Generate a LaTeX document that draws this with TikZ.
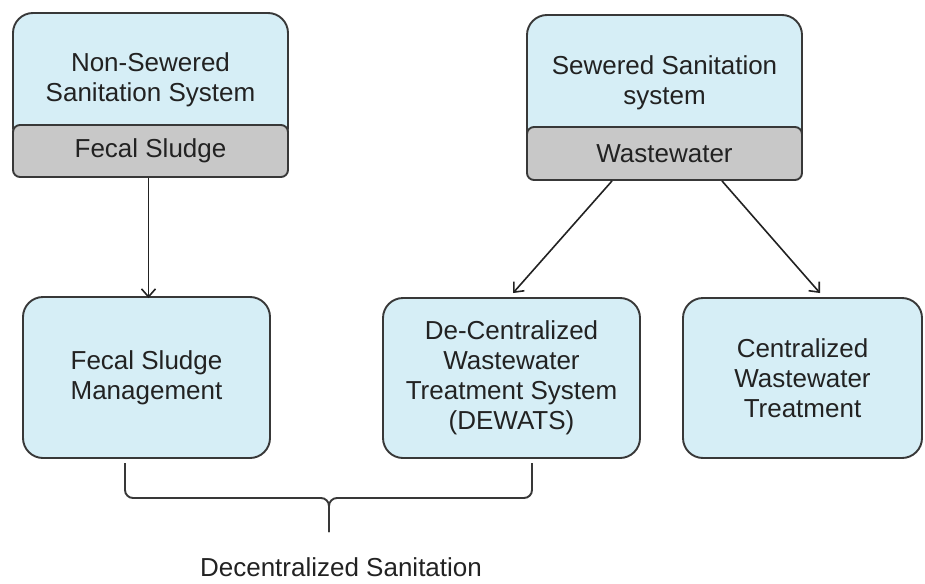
\documentclass[tikz,border=0pt]{standalone}
\usepackage{fontspec}
\setmainfont{Liberation Sans}
\usetikzlibrary{arrows.meta}
\definecolor{boxblue}{HTML}{D6EEF6}
\definecolor{tabgray}{HTML}{C8C8C8}
\definecolor{edge}{HTML}{383838}
\definecolor{ink}{HTML}{222222}
\tikzset{
  box/.style={draw=edge, line width=1.9pt, fill=boxblue, rounded corners=20pt, inner sep=0pt, align=center, text=ink},
  tab/.style={draw=edge, line width=1.9pt, fill=tabgray, rounded corners=7pt, inner sep=0pt, text=ink},
  link/.style={draw=ink, line width=1.6pt, -{Straight Barb[length=8pt,width=14pt]}},
  brace/.style={draw=edge, line width=1.9pt, rounded corners=8pt},
}

\begin{document}
\begin{tikzpicture}[x=1pt, y=-1pt, font=\fontsize{26}{30}\selectfont]
\useasboundingbox (0,0) rectangle (925,583);
% top row
\node[box, minimum width=275pt, minimum height=134pt] (nss) at (150.5,80) {Non-Sewered\\Sanitation System};
\node[tab, minimum width=275pt, minimum height=52pt] (fs) at (150.5,151) {Fecal Sludge};
\node[box, minimum width=275pt, minimum height=136pt] (ss) at (664.5,83) {Sewered Sanitation\\system};
\node[tab, minimum width=275pt, minimum height=53pt] (ww) at (664.5,153.5) {Wastewater};
% bottom row
\node[box, minimum width=247pt, minimum height=161pt] (fsm) at (146.5,377.5) {Fecal Sludge\\Management};
\node[box, minimum width=257pt, minimum height=160pt] (dewats) at (511.5,378) {De-Centralized\\Wastewater\\Treatment System\\(DEWATS)};
\node[box, minimum width=239pt, minimum height=160pt] (cwt) at (802.5,378) {Centralized\\Wastewater\\Treatment};
% arrows
\draw[link] ([xshift=-2pt]fs.south) -- ([xshift=-2pt,yshift=-2pt]fs.south |- fsm.north);
\draw[link] ([xshift=-52.5pt]ww.south) -- ([xshift=1.5pt,yshift=4pt]dewats.north);
\draw[link] ([xshift=57.5pt]ww.south) -- ([xshift=17.5pt,yshift=4pt]cwt.north);
% brace
\coordinate (bl) at (125,463);
\coordinate (br) at (532,463);
\coordinate (bm) at (329,498);
\coordinate (bt) at (329,532);
\draw[brace] (bl) -- (bl |- bm) -- (bm) -- (bt);
\draw[brace] (br) -- (br |- bm) -- (bm) -- (bt);
\node[text=ink] (dsan) at (341,567) {Decentralized Sanitation};
\end{tikzpicture}
\end{document}
